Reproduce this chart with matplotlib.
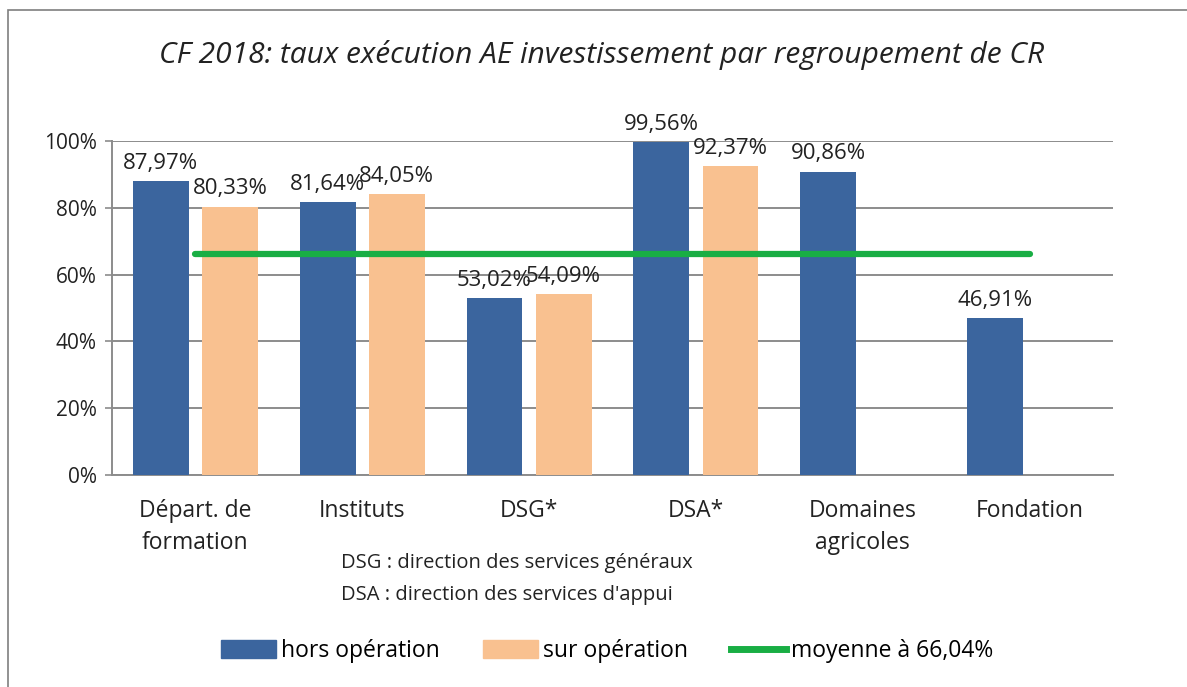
import numpy as np
import matplotlib
matplotlib.use("Agg")
import matplotlib.pyplot as plt
from matplotlib.patches import Rectangle
from matplotlib.lines import Line2D

plt.rcParams['font.family'] = ['Open Sans', 'DejaVu Sans']

categories = ["Départ. de\nformation", "Instituts", "DSG*", "DSA*", "Domaines\nagricoles", "Fondation"]
hors_operation = [87.97, 81.64, 53.02, 99.56, 90.86, 46.91]
sur_operation = [80.33, 84.05, 54.09, 92.37, np.nan, np.nan]
moyenne = 66.04
yticks = [0, 20, 40, 60, 80, 100]

blue = "#3B659E"
orange = "#F9C190"
green = "#19AE44"
grid_c = "#8C8C8C"
txt = "#222222"

fig = plt.figure(figsize=(11.87, 6.87), dpi=100)
ax = fig.add_axes([112/1187, 1-475/687, 1001/1187, 334/687])

# outer chart frame
fig.patches.append(Rectangle((8/1187, -0.1), 1.2, 1-10/687+0.1, transform=fig.transFigure,
                             fill=False, edgecolor="#7F7F7F", linewidth=1.2))

x = np.arange(len(categories)) + 0.5
w = 0.335
off = 0.207

ax.bar(x - off, hors_operation, w, color=blue, zorder=3, label="hors opération")
ax.bar(x + off, [0 if np.isnan(v) else v for v in sur_operation], w, color=orange, zorder=3,
       label="sur opération")
ax.plot(x, [moyenne] * len(x), color=green, lw=4.5, solid_capstyle="round", zorder=4,
        label="moyenne à 66,04%")

def fr(v):
    return f"{v:.2f}".replace(".", ",") + "%"

lab_fs = 16
for xi, v in zip(x - off, hors_operation):
    ax.text(xi, v + 2.2, fr(v), ha="center", va="bottom", fontsize=lab_fs, color=txt, zorder=5,
            clip_on=False)
for xi, v in zip(x + off, sur_operation):
    if not np.isnan(v):
        ax.text(xi, v + 2.2, fr(v), ha="center", va="bottom", fontsize=lab_fs, color=txt, zorder=5,
                clip_on=False)

ax.set_xlim(0, len(categories))
ax.set_ylim(0, 100)
ax.set_yticks(yticks)
ax.set_yticklabels([f"{t}%" for t in yticks], fontsize=15, color=txt)
ax.set_xticks(x)
ax.set_xticklabels(categories, fontsize=16.5, color=txt, linespacing=1.45)
ax.tick_params(axis="x", length=0, pad=17)
ax.tick_params(axis="y", length=5, color=grid_c, width=1.2, pad=6)
ax.yaxis.grid(True, color=grid_c, lw=1.4, zorder=0)
for s in ["top", "right"]:
    ax.spines[s].set_visible(False)
for s in ["left", "bottom"]:
    ax.spines[s].set_color(grid_c)
    ax.spines[s].set_linewidth(1.4)

fig.text(602/1187, 1-55/687, "CF 2018: taux exécution AE investissement par regroupement de CR",
         ha="center", va="center", fontsize=21.5, style="italic", color=txt)
fig.text(341/1187, 1-563/687, "DSG : direction des services généraux", ha="left", va="center",
         fontsize=14.5, color=txt)
fig.text(341/1187, 1-595/687, "DSA : direction des services d'appui", ha="left", va="center",
         fontsize=14.5, color=txt)

handles = [Rectangle((0, 0), 1, 1, color=blue), Rectangle((0, 0), 1, 1, color=orange),
           Line2D([0], [0], color=green, lw=5)]
labels = ["hors opération", "sur opération", "moyenne à 66,04%"]
fig.legend(handles, labels, loc="center", bbox_to_anchor=(607/1187, 1-651/687), ncol=3,
           frameon=False, fontsize=16.5, handlelength=2.4, handleheight=0.8, handletextpad=0.2,
           columnspacing=1.9)

fig.savefig("out.png", dpi=100)
